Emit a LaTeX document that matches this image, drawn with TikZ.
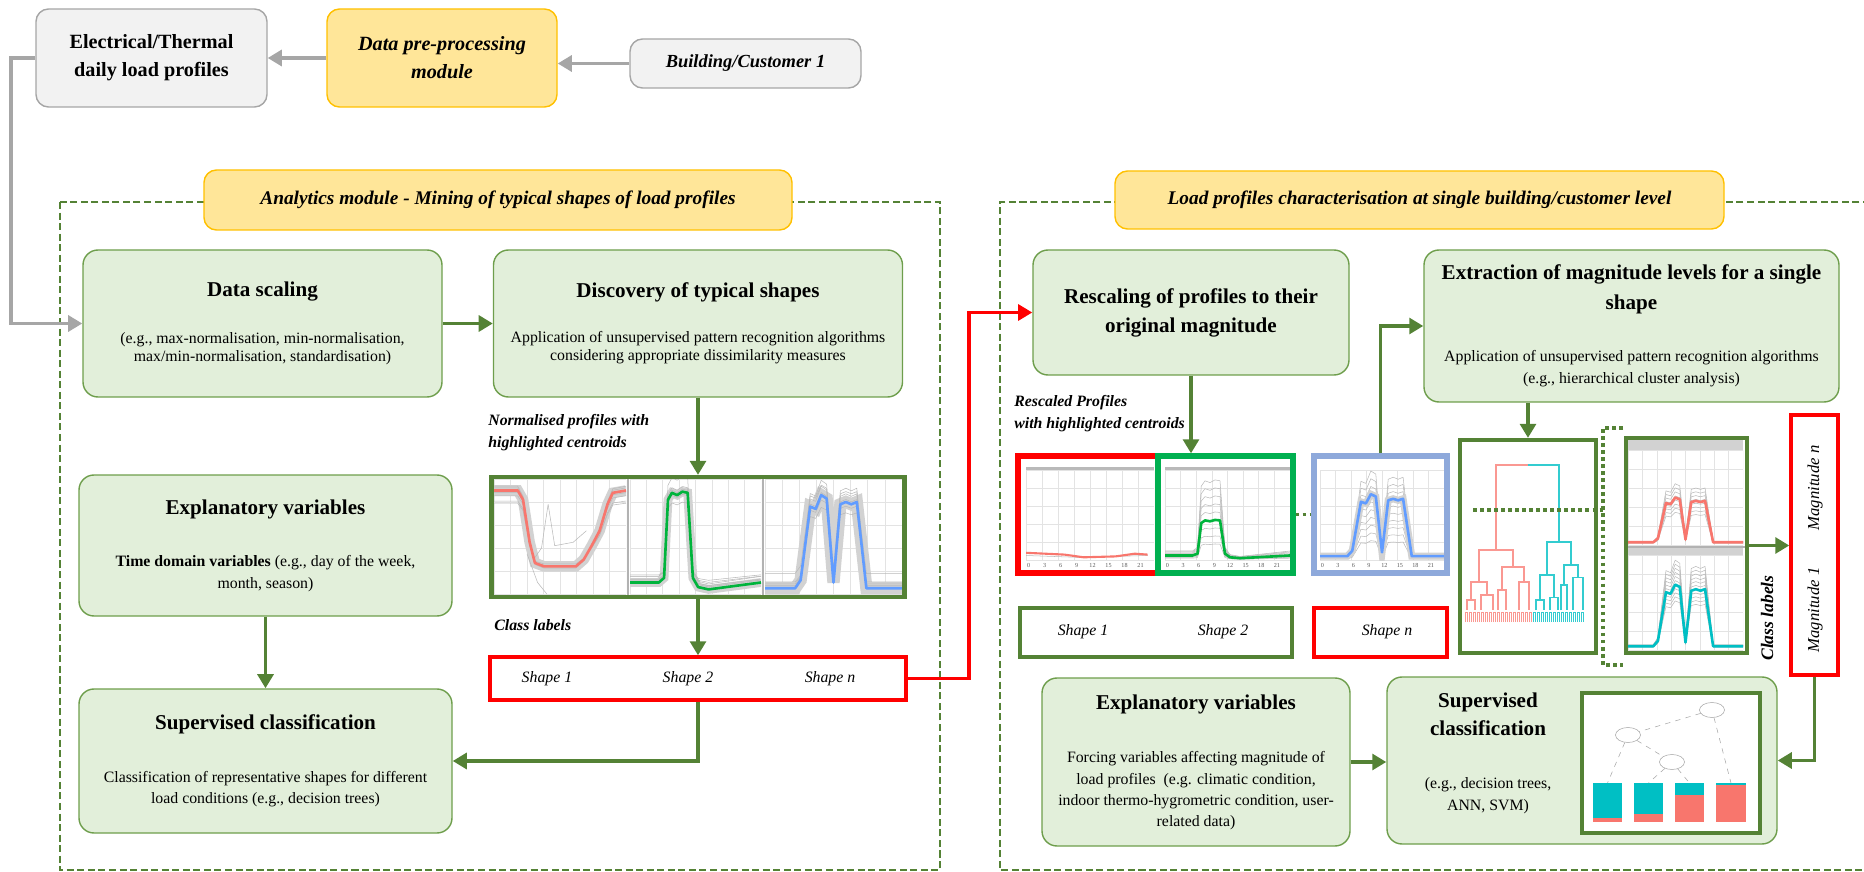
\documentclass[tikz,border=0pt]{standalone}
\usepackage{fontspec}
\setmainfont{Liberation Serif}
\usetikzlibrary{arrows.meta,shapes.geometric}

\definecolor{boxgreen}{HTML}{E2EFDA}
\definecolor{edgegreen}{HTML}{6E9E4C}
\definecolor{darkgreen}{HTML}{548235}
\definecolor{hdryellow}{HTML}{FFE699}
\definecolor{hdredge}{HTML}{FFC000}
\definecolor{greyfill}{HTML}{F2F2F2}
\definecolor{greyedge}{HTML}{A6A6A6}
\definecolor{plotred}{HTML}{F8766D}
\definecolor{plotgreen}{HTML}{00B43C}
\definecolor{plotblue}{HTML}{619CFF}
\definecolor{plotteal}{HTML}{00BFC4}
\definecolor{framegreen}{HTML}{00B050}
\definecolor{frameblue}{HTML}{8EA9DB}

\newcommand{\boxttl}{\fontsize{12}{16}\selectfont\bfseries}

% daily load shapes on a unit square
\newcommand{\curveU}[1]{\draw[#1] plot coordinates {(0,0.9) (0.18,0.9) (0.22,0.82) (0.27,0.45) (0.31,0.27) (0.38,0.24) (0.62,0.24) (0.68,0.3) (0.74,0.42) (0.8,0.55) (0.86,0.78) (0.9,0.88) (1,0.9)};}
\newcommand{\curveP}[1]{\draw[#1] plot coordinates {(0,0.1) (0.22,0.1) (0.26,0.14) (0.29,0.82) (0.32,0.88) (0.36,0.86) (0.4,0.89) (0.44,0.88) (0.48,0.14) (0.52,0.06) (0.6,0.04) (0.8,0.07) (1,0.1)};}
\newcommand{\curveM}[1]{\draw[#1] plot coordinates {(0,0.05) (0.22,0.05) (0.26,0.12) (0.33,0.76) (0.37,0.74) (0.41,0.86) (0.45,0.83) (0.5,0.1) (0.55,0.78) (0.59,0.8) (0.63,0.78) (0.67,0.8) (0.74,0.05) (1,0.05)};}

\begin{document}
\begin{tikzpicture}[
    greybox/.style={rectangle, draw=greyedge, fill=greyfill, line width=0.8pt, rounded corners=0.25cm, align=center, inner sep=0pt, font=\fontsize{11.5}{16}\selectfont\bfseries},
    yellowbox/.style={rectangle, draw=hdredge, fill=hdryellow, line width=0.8pt, rounded corners=0.25cm, align=center, inner sep=0pt, font=\fontsize{11}{16}\selectfont\bfseries\itshape},
    process/.style={rectangle, draw=edgegreen, fill=boxgreen, line width=0.8pt, rounded corners=0.3cm, align=center, inner sep=0pt, font=\fontsize{9}{12}\selectfont},
    frame/.style={rectangle, draw, line width=2.4pt, inner sep=0pt},
    labelbox/.style={rectangle, draw, line width=1.9pt, inner sep=0pt},
    shapetext/.style={font=\fontsize{9}{11}\selectfont\itshape, inner sep=0pt},
    note/.style={font=\fontsize{9}{12.5}\selectfont\bfseries\itshape, align=left, inner sep=0pt, anchor=west},
    arrow/.style={-{Triangle[length=8pt,width=9pt]}, line width=2pt, draw=darkgreen},
    greyarrow/.style={-{Triangle[length=8pt,width=9pt]}, line width=2.2pt, draw=greyedge},
    redarrow/.style={-{Triangle[length=8pt,width=9pt]}, line width=1.8pt, draw=red},
    region/.style={draw=darkgreen, line width=1.5pt, dash pattern=on 4pt off 2pt},
    dotline/.style={draw=darkgreen, line width=2pt, dash pattern=on 2pt off 2pt},
    gridln/.style={gray!22, line width=0.3pt},
    bundle/.style={gray!55, line width=0.3pt, line join=round},
    centroid/.style={line width=1.5pt, line join=round},
    tick/.style={font=\fontsize{3.5}{4}\selectfont, text=gray!70!black, inner sep=0pt},
    treenode/.style={ellipse, draw=gray!70, fill=white, line width=0.3pt, minimum width=0.5cm, minimum height=0.3cm, inner sep=0pt},
    treeedge/.style={gray!70, line width=0.3pt, dashed}
]
\useasboundingbox (0,0) rectangle (37.28,-17.44);

% Data acquisition
\node[greybox, minimum width=4.62cm, minimum height=1.96cm] (elec) at (3.03,-1.16) {Electrical/Thermal\\daily load profiles};
\node[yellowbox, minimum width=4.6cm, minimum height=1.96cm, font=\fontsize{11.5}{16}\selectfont\bfseries\itshape] (prep) at (8.84,-1.16) {Data pre-processing\\module};
\node[greybox, minimum width=4.62cm, minimum height=0.98cm, font=\fontsize{10.5}{14}\selectfont\bfseries\itshape] (bld) at (14.91,-1.27) {Building/Customer 1};

\draw[greyarrow] (bld.west) -- (bld.west -| prep.east);
\draw[greyarrow] (prep.west) -- (elec.east);

% Analytics module
\draw[region] (1.2,-4.04) rectangle (18.8,-17.4);
\node[yellowbox, minimum width=11.76cm, minimum height=1.2cm] (hdrA) at (9.96,-4.0) {Analytics module - Mining of typical shapes of load profiles};

\node[process, minimum width=7.18cm, minimum height=2.94cm] (scal) at (5.25,-6.47) {{\boxttl Data scaling}\\[14.7pt] (e.g., max-normalisation, min-normalisation,\\[-1.5pt] max/min-normalisation, standardisation)};
\node[process, minimum width=8.18cm, minimum height=2.94cm] (disc) at (13.96,-6.47) {{\boxttl Discovery of typical shapes}\\[13.6pt] Application of unsupervised pattern recognition algorithms\\[-1.5pt] considering appropriate dissimilarity measures};
\node[process, minimum width=7.46cm, minimum height=2.82cm] (explL) at (5.31,-10.91) {{\boxttl Explanatory variables}\\[18pt] \textbf{Time domain variables} (e.g., day of the week,\\ month, season)};
\node[process, minimum width=7.46cm, minimum height=2.88cm] (supL) at (5.31,-15.22) {{\boxttl Supervised classification}\\[18pt] Classification of representative shapes for different\\ load conditions (e.g., decision trees)};

\node[note] (normtxt) at (9.76,-8.66) {Normalised profiles with\\highlighted centroids};

% normalised profiles
\begin{scope}[shift={(9.88,-11.88)}, x=2.64cm, y=2.3cm]
  \clip (0,0) rectangle (1,1);
  \draw[gridln] (0,0) grid[xstep=0.125, ystep=0.2] (1,1);
  \curveU{gray!35, line width=6pt}
  \foreach \s/\d in {0.92/0.06, 1.04/-0.03, 0.85/0.1, 0.97/0.02, 0.8/0.16, 1.08/-0.08} {\curveU{bundle, yshift=\d cm, yscale=\s}}
  \draw[bundle] (0.3,0.3) -- (0.36,0.4) -- (0.41,0.78) -- (0.46,0.42) -- (0.6,0.45) -- (0.7,0.55);
  \draw[bundle] (0.25,0.35) -- (0.33,0.1) -- (0.4,0.0);
  \curveU{centroid, plotred}
\end{scope}
\begin{scope}[shift={(12.6,-11.88)}, x=2.62cm, y=2.3cm]
  \clip (0,0) rectangle (1,1);
  \draw[gridln] (0,0) grid[xstep=0.125, ystep=0.2] (1,1);
  \curveP{gray!35, line width=5pt}
  \foreach \s/\d in {0.95/0.08, 1.06/-0.02, 0.9/0.15, 1.0/0.05, 0.8/0.2, 1.1/0.1} {\curveP{bundle, yshift=\d cm, yscale=\s}}
  \curveP{centroid, plotgreen}
\end{scope}
\begin{scope}[shift={(15.3,-11.88)}, x=2.74cm, y=2.3cm]
  \clip (0,0) rectangle (1,1);
  \draw[gridln] (0,0) grid[xstep=0.125, ystep=0.2] (1,1);
  \curveM{gray!35, line width=7pt}
  \foreach \s/\d in {0.9/0.1, 1.1/-0.02, 0.8/0.15, 1.0/0.05, 1.15/0.0, 0.95/0.3} {\curveM{bundle, yshift=\d cm, yscale=\s}}
  \curveM{centroid, plotblue}
\end{scope}
\draw[gray!60, line width=0.6pt] (12.56,-9.54) -- (12.56,-11.94) (15.26,-9.54) -- (15.26,-11.94);
\node[frame, draw=darkgreen, minimum width=8.26cm, minimum height=2.4cm] (plots) at (13.96,-10.74) {};

\node[note] (clsA) at (9.88,-12.5) {Class labels};
\node[labelbox, draw=red, minimum width=8.32cm, minimum height=0.86cm] (shapesA) at (13.96,-13.57) {};
\node[shapetext] (sA1) at (10.94,-13.58) {Shape 1};
\node[shapetext] (sA2) at (13.76,-13.58) {Shape 2};
\node[shapetext] (sAn) at (16.6,-13.58) {Shape n};

\draw[greyarrow] (elec.west) -- ++(-0.48,0) |- (scal.west);
\draw[arrow] (scal.east) -- (disc.west);
\draw[arrow] (disc.south) -- (plots.north);
\draw[arrow] (plots.south) -- (shapesA.north);
\draw[arrow] (explL.south) -- (supL.north);
\draw[arrow] (shapesA.south) |- (supL.east);

% Single building characterisation
\draw[region] (37.4,-4.04) -- (20,-4.04) -- (20,-17.4) -- (37.4,-17.4);
\node[yellowbox, minimum width=12.18cm, minimum height=1.16cm] (hdrB) at (28.39,-4.0) {Load profiles characterisation at single building/customer level};

\node[process, minimum width=6.32cm, minimum height=2.5cm] (resc) at (23.82,-6.25) {{\boxttl Rescaling of profiles to their}\\[4.5pt]{\boxttl original magnitude}};
\node[process, minimum width=8.3cm, minimum height=3.04cm] (extr) at (32.63,-6.52) {{\boxttl Extraction of magnitude levels for a single}\\[5pt]{\boxttl shape}\\[17.6pt] Application of unsupervised pattern recognition algorithms\\[0.5pt] (e.g., hierarchical cluster analysis)};
\node[process, minimum width=6.16cm, minimum height=3.36cm] (explR) at (23.92,-15.24) {{\boxttl Explanatory variables}\\[18.7pt] Forcing variables affecting magnitude of\\ load profiles~ (e.g. climatic condition,\\ indoor thermo-hygrometric condition, user-\\ related data)};
\node[process, minimum width=7.8cm, minimum height=3.34cm] (supR) at (31.64,-15.21) {};
\node[font=\fontsize{9}{12}\selectfont, align=center, inner sep=0pt] (supRtxt) at (29.76,-15.07) {{\boxttl Supervised}\\[4pt]{\boxttl classification}\\[18pt] (e.g., decision trees,\\[0.5pt] ANN, SVM)};

\node[note] (resctxt) at (20.28,-8.28) {Rescaled Profiles\\with highlighted centroids};

% rescaled profiles
\begin{scope}[shift={(20.52,-11.2)}, x=2.56cm, y=1.8cm]
  \begin{scope}
    \clip (0,0) rectangle (1,1.04);
    \draw[gridln] (0,0) grid[xstep=0.125, ystep=0.2] (1,1);
    \fill[gray!55] (0,1) rectangle (1,1.035);
    \draw[bundle] (0,0.05) -- (0.4,0.03) -- (0.7,0.04) -- (0.95,0.05);
    \draw[plotred, centroid, line width=1.2pt] plot coordinates {(0,0.08) (0.3,0.06) (0.45,0.03) (0.7,0.04) (0.85,0.07) (0.95,0.06)};
  \end{scope}
  \foreach \t [count=\i from 0] in {0,3,6,9,12,15,18,21} {\node[tick] (tka\i) at (\i/8+0.02,-0.06) {\t};}
\end{scope}
\begin{scope}[shift={(23.3,-11.2)}, x=2.5cm, y=1.8cm]
  \begin{scope}
    \clip (0,0) rectangle (1,1.04);
    \draw[gridln] (0,0) grid[xstep=0.125, ystep=0.2] (1,1);
    \fill[gray!55] (0,1) rectangle (1,1.035);
    \foreach \s in {0.2,0.3,...,1.05} {\curveP{bundle, yscale=\s}}
    \curveP{centroid, plotgreen, yscale=0.5}
  \end{scope}
  \foreach \t [count=\i from 0] in {0,3,6,9,12,15,18,21} {\node[tick] (tkb\i) at (\i/8+0.02,-0.06) {\t};}
\end{scope}
\begin{scope}[shift={(26.4,-11.2)}, x=2.48cm, y=1.8cm]
  \begin{scope}
    \clip (0,0) rectangle (1,1.06);
    \draw[gridln] (0,0) grid[xstep=0.125, ystep=0.2] (1,1);
    \foreach \s in {0.25,0.35,...,1.2} {\curveM{bundle, yscale=\s}}
    \curveM{gray!35, line width=4pt, yscale=0.85}
    \curveM{centroid, plotblue, yscale=0.85}
  \end{scope}
  \foreach \t [count=\i from 0] in {0,3,6,9,12,15,18,21} {\node[tick] (tkc\i) at (\i/8+0.02,-0.06) {\t};}
\end{scope}
\node[frame, draw=red, line width=3pt, minimum width=2.8cm, minimum height=2.34cm] (pnlR1) at (21.76,-10.29) {};
\node[frame, draw=framegreen, line width=3pt, minimum width=2.7cm, minimum height=2.34cm] (pnlR2) at (24.51,-10.29) {};
\node[frame, draw=frameblue, line width=3pt, minimum width=2.66cm, minimum height=2.34cm] (pnlR3) at (27.61,-10.29) {};
\draw[dotline] (pnlR2.east) -- (pnlR3.west);

\node[labelbox, draw=darkgreen, minimum width=5.44cm, minimum height=0.98cm] (shapesB) at (23.12,-12.65) {};
\node[labelbox, draw=red, minimum width=2.66cm, minimum height=0.98cm] (shapesC) at (27.61,-12.65) {};
\node[shapetext] (sB1) at (21.66,-12.64) {Shape 1};
\node[shapetext] (sB2) at (24.46,-12.64) {Shape 2};
\node[shapetext] (sCn) at (27.74,-12.64) {Shape n};

% hierarchical clustering
\begin{scope}[line width=0.6pt]
  \draw[plotred!75] (29.92,-11.0) |- (30.55,-9.3);
  \draw[plotteal!80] (30.55,-9.3) -| (31.18,-10.84);
  \begin{scope}[plotred!75]
    \draw (29.58,-11.64) |- (30.26,-11.0) -- (30.26,-11.34);
    \draw (29.42,-12.0) |- (29.74,-11.64) -- (29.74,-11.9);
    \draw (30.04,-11.8) |- (30.48,-11.34) -- (30.48,-11.64);
    \draw (29.34,-12.2) |- (29.5,-12.0) -- (29.5,-12.2);
    \draw (29.62,-12.2) |- (29.86,-11.9) -- (29.86,-12.2);
    \draw (29.96,-12.2) |- (30.12,-11.8) -- (30.12,-12.2);
    \draw (30.38,-12.2) |- (30.58,-11.64) -- (30.58,-12.2);
    \foreach \x in {29.3,29.38,...,30.6} {\draw[line width=0.4pt] (\x,-12.44) |- (\x+0.05,-12.24) -- (\x+0.05,-12.44);}
  \end{scope}
  \begin{scope}[plotteal!80]
    \draw (30.94,-11.5) |- (31.42,-10.84) -- (31.42,-11.3);
    \draw (30.8,-12.0) |- (31.08,-11.5) -- (31.08,-11.95);
    \draw (31.28,-11.7) |- (31.56,-11.3) -- (31.56,-11.55);
    \draw (30.72,-12.2) |- (30.88,-12.0) -- (30.88,-12.2);
    \draw (31.0,-12.2) |- (31.16,-11.95) -- (31.16,-12.2);
    \draw (31.22,-12.2) |- (31.34,-11.7) -- (31.34,-12.2);
    \draw (31.46,-12.2) |- (31.66,-11.55) -- (31.66,-12.2);
    \foreach \x in {30.66,30.74,...,31.66} {\draw[line width=0.4pt] (\x,-12.44) |- (\x+0.05,-12.24) -- (\x+0.05,-12.44);}
  \end{scope}
\end{scope}
\node[frame, draw=darkgreen, minimum width=2.72cm, minimum height=4.26cm] (dendro) at (30.56,-10.93) {};
\draw[dotline] (29.46,-10.2) -- (32.06,-10.2);
\draw[dotline] (32.46,-8.56) -- (32.06,-8.56) -- (32.06,-13.3) -- (32.46,-13.3);

% magnitude clusters
\begin{scope}[shift={(32.56,-10.9)}, x=2.3cm, y=1.9cm]
  \begin{scope}
    \clip (0,0) rectangle (1,1.1);
    \draw[gridln] (0,0) grid[xstep=0.125, ystep=0.2] (1,1);
    \fill[gray!35] (0,1) rectangle (1,1.1);
    \foreach \s in {0.4,0.45,...,0.8} {\curveM{bundle, yscale=\s}}
    \curveM{centroid, plotred, yscale=0.58}
  \end{scope}
\end{scope}
\begin{scope}[shift={(32.56,-13.0)}, x=2.3cm, y=1.9cm]
  \begin{scope}
    \clip (0,0) rectangle (1,1.1);
    \draw[gridln] (0,0) grid[xstep=0.125, ystep=0.2] (1,1);
    \fill[gray!35] (0,1) rectangle (1,1.1);
    \foreach \s in {0.6,0.65,...,1.1} {\curveM{bundle, yscale=\s}}
    \curveM{centroid, plotteal, yscale=0.8}
  \end{scope}
\end{scope}
\draw[gray!60, line width=0.6pt] (32.52,-10.94) -- (34.94,-10.94);
\node[frame, draw=darkgreen, minimum width=2.42cm, minimum height=4.3cm] (mags) at (33.73,-10.91) {};
\node[font=\fontsize{10}{12}\selectfont\bfseries\itshape, rotate=90, inner sep=0pt] (clsB) at (35.34,-12.36) {Class labels};
\node[labelbox, draw=red, minimum width=0.94cm, minimum height=5.2cm] (magR) at (36.29,-10.9) {};
\node[font=\fontsize{9.5}{11}\selectfont\itshape, rotate=90, inner sep=0pt] (mag1) at (36.3,-12.2) {Magnitude 1};
\node[font=\fontsize{9.5}{11}\selectfont\itshape, rotate=90, inner sep=0pt] (magn) at (36.3,-9.76) {Magnitude n};

% decision tree
\node[frame, draw=darkgreen, fill=white, line width=2.8pt, minimum width=3.56cm, minimum height=2.8cm] (treeimg) at (33.42,-15.26) {};
\coordinate (b1) at (32.15,-15.66);
\coordinate (b2) at (32.97,-15.66);
\coordinate (b3) at (33.79,-15.66);
\coordinate (b4) at (34.62,-15.66);
\node[treenode] (t0) at (34.24,-14.2) {};
\node[treenode] (t1) at (32.56,-14.7) {};
\node[treenode] (t2) at (33.44,-15.24) {};
\draw[treeedge] (t0) -- (t1);
\draw[treeedge] (t0) -- (b4);
\draw[treeedge] (t1) -- (b1);
\draw[treeedge] (t1) -- (t2);
\draw[treeedge] (t2) -- (b2);
\draw[treeedge] (t2) -- (b3);
\fill[plotteal] (31.86,-16.44) rectangle (32.44,-15.66);
\fill[plotred] (31.86,-16.44) rectangle (32.44,-16.36);
\fill[plotteal] (32.68,-16.44) rectangle (33.26,-15.66);
\fill[plotred] (32.68,-16.44) rectangle (33.26,-16.28);
\fill[plotteal] (33.5,-16.44) rectangle (34.08,-15.66);
\fill[plotred] (33.5,-16.44) rectangle (34.08,-15.89);
\fill[plotteal] (34.32,-16.44) rectangle (34.92,-15.66);
\fill[plotred] (34.32,-16.44) rectangle (34.92,-15.7);

% connectors
\coordinate (redturn) at (19.38,-13.57);
\draw[redarrow] (shapesA.east) -- (redturn) |- (resc.west);
\draw[arrow] (resc.south) -- (resc.south |- pnlR2.north);
\draw[arrow] (pnlR3.north) |- (extr.west);
\draw[arrow] (extr.south -| dendro.north) -- (dendro.north);
\draw[arrow] (mags.east) -- (mags.east -| magR.west);
\draw[arrow] (magR.south) |- (supR.east);
\draw[arrow] (explR.east) -- (explR.east -| supR.west);
\end{tikzpicture}
\end{document}
